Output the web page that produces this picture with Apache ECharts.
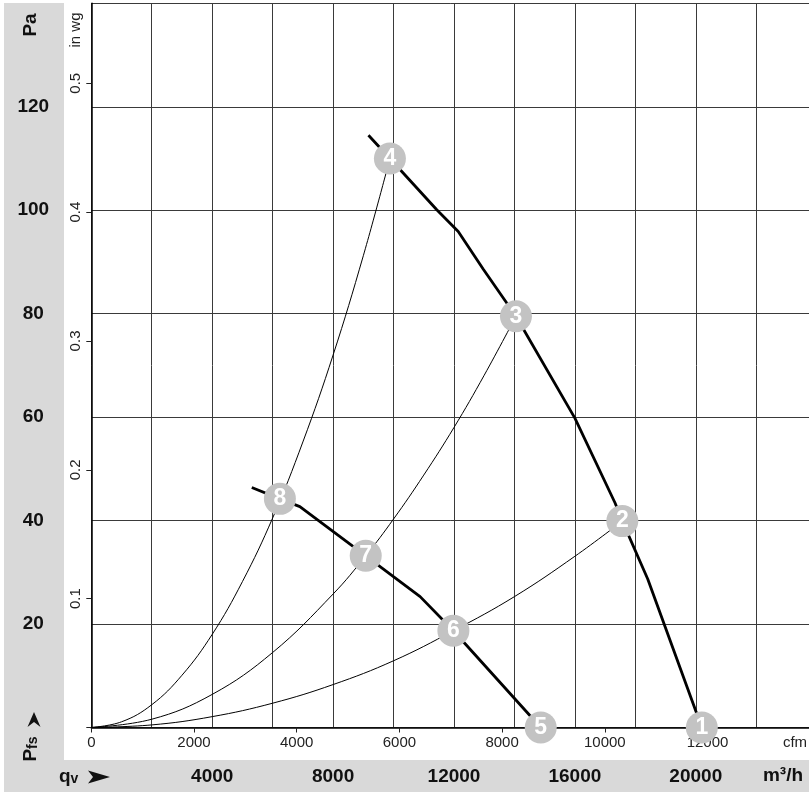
<!DOCTYPE html>
<html>
<head>
<meta charset="utf-8">
<script src="https://cdn.jsdelivr.net/npm/echarts@6/dist/echarts.min.js"></script>
<style>
html,body{margin:0;padding:0;background:#fff;}
#chart{width:809px;height:797px;}
</style>
</head>
<body>
<div id="chart"></div>
<script>
// ---- data (airflow qV in m3/h, static pressure pfs in Pa) ----
const fanHigh = [[9170,114.5],[9880,110.0],[11430,100.1],[12140,95.9],[12970,88.6],[14050,79.5],[16000,59.8],[17330,43.4],[17570,39.9],[18410,28.7],[20200,0]];
const fanLow = [[5310,46.4],[6240,44.2],[6900,42.7],[9080,33.2],[10880,25.3],[11980,18.7],[14870,0]];
const sysA = [[0,0],[1000,1.1],[2000,4.4],[3000,10.1],[4000,18.0],[5000,28.2],[6000,40.5],[7000,55.2],[8000,72.0],[9000,91.2],[9880,110.0]];
const sysB = [[0,0],[2000,1.6],[4000,6.4],[6000,14.5],[8000,25.8],[9080,33.2],[10000,40.3],[11000,48.8],[12000,58.0],[13000,68.1],[14050,79.5]];
const sysC = [[0,0],[2000,0.5],[4000,2.1],[6000,4.7],[8000,8.3],[10000,12.9],[11980,18.7],[14000,25.3],[16000,33.1],[17570,39.9]];
const opPoints = [[20200,0],[17570,39.9],[14050,79.5],[9880,110.0],[14870,0],[11980,18.7],[9080,33.2],[6240,44.2]];
const opLabels = ['1','2','3','4','5','6','7','8'];
const qMax = 23746, pMax = 140;
const CFM = 1.699011, INWG = 249.0889;

const FONT = '"Liberation Sans", Arial, sans-serif';
const chart = echarts.init(document.getElementById('chart'), null, {renderer:'canvas'});

function lineSeries(data, width, smooth){
  return {type:'line', data:data, xAxisIndex:0, yAxisIndex:0, showSymbol:false, symbol:'none',
    smooth:smooth, lineStyle:{color:'#000', width:width}, z:3, silent:true};
}

const option = {
  animation:false,
  textStyle:{fontFamily:FONT},
  grid:{left:91.3, top:3.3, right:0, height:724.2, containLabel:false},
  xAxis:[
    {type:'value', position:'bottom', min:0, max:qMax, interval:2000,
      axisLine:{show:true, onZero:false, lineStyle:{color:'#000', width:1.5}},
      axisTick:{show:false},
      splitLine:{show:true, showMaxLine:false, lineStyle:{color:'#3a3a3a', width:1}},
      axisLabel:{margin:40, fontSize:19, fontWeight:'bold', color:'#111', fontFamily:FONT, showMaxLabel:false,
        formatter:v => (v>0 && v<22000 && v%4000===0) ? String(v) : ''}},
    {type:'value', position:'bottom', min:0, max:qMax/CFM, interval:2000,
      axisLine:{show:false, onZero:false},
      axisTick:{show:true, inside:false, length:5, lineStyle:{color:'#222'}},
      splitLine:{show:false},
      axisLabel:{margin:8, fontSize:15, color:'#222', fontFamily:FONT, showMaxLabel:false,
        formatter:v => (v<=12000 && v%2000===0) ? String(v) : ''}}
  ],
  yAxis:[
    {type:'value', position:'left', min:0, max:pMax, interval:20,
      axisLine:{show:true, onZero:false, lineStyle:{color:'#000', width:1.5}},
      axisTick:{show:false},
      splitLine:{show:true, lineStyle:{color:'#3a3a3a', width:1}},
      axisLabel:{margin:58, align:'center', fontSize:19, fontWeight:'bold', color:'#111', fontFamily:FONT,
        formatter:v => (v>0 && v<pMax) ? String(v) : ''}},
    {type:'value', position:'left', offset:0, min:0, max:pMax/INWG, interval:0.1,
      axisLine:{show:false, onZero:false},
      axisTick:{show:true, inside:false, length:5, lineStyle:{color:'#222'}},
      splitLine:{show:false},
      axisLabel:{margin:8, rotate:90, fontSize:15, color:'#222', fontFamily:FONT, showMaxLabel:false,
        formatter:v => (v>0.05 && v<0.55) ? v.toFixed(1) : ''}}
  ],
  graphic:[
    {type:'rect', z:-10, shape:{x:4, y:3, width:60, height:757}, style:{fill:'#d9d9d9'}, silent:true},
    {type:'rect', z:-10, shape:{x:4, y:760, width:805, height:32}, style:{fill:'#d9d9d9'}, silent:true},
    {type:'text', x:31, y:25, rotation:Math.PI/2, style:{text:'Pa', font:'bold 19px '+FONT, fill:'#111', textAlign:'center', textVerticalAlign:'middle'}},
    {type:'text', x:76, y:30, rotation:Math.PI/2, style:{text:'in wg', font:'15px '+FONT, fill:'#222', textAlign:'center', textVerticalAlign:'middle'}},
    {type:'text', x:31, y:749, rotation:Math.PI/2, style:{text:'{a|P}{b|fs}', textAlign:'center', textVerticalAlign:'middle',
      rich:{a:{fontSize:19, fontWeight:'bold', fontFamily:FONT, fill:'#111', verticalAlign:'bottom'}, b:{fontSize:14, fontWeight:'bold', fontFamily:FONT, fill:'#111', verticalAlign:'bottom'}}}},
    {type:'polygon', shape:{points:[[34,712],[40.5,727],[34,722],[27.5,727]]}, style:{fill:'#111'}},
    {type:'text', x:59, y:777, style:{text:'{a|q}{b|v}', textAlign:'left', textVerticalAlign:'middle',
      rich:{a:{fontSize:19, fontWeight:'bold', fontFamily:FONT, fill:'#111', verticalAlign:'bottom'}, b:{fontSize:14, fontWeight:'bold', fontFamily:FONT, fill:'#111', verticalAlign:'bottom'}}}},
    {type:'polygon', shape:{points:[[110,777],[88,770.5],[93,777],[88,783.5]]}, style:{fill:'#111'}},
    {type:'text', x:795, y:743, style:{text:'cfm', font:'15px '+FONT, fill:'#222', textAlign:'center', textVerticalAlign:'middle'}},
    {type:'text', x:783, y:776, style:{text:'m³/h', font:'bold 19px '+FONT, fill:'#111', textAlign:'center', textVerticalAlign:'middle'}}
  ],
  series:[
    lineSeries(sysA, 1, 0.4),
    lineSeries(sysB, 1, 0.4),
    lineSeries(sysC, 1, 0.4),
    lineSeries(fanHigh, 2.8, false),
    lineSeries(fanLow, 2.8, false),
    {type:'scatter', xAxisIndex:0, yAxisIndex:0, z:5, silent:true,
      data:opPoints.map((p,i)=>({value:p, name:opLabels[i]})),
      symbol:'circle', symbolSize:32, itemStyle:{color:'#c3c3c3', opacity:1},
      label:{show:true, position:'inside', formatter:p=>p.name, color:'#fff', fontSize:23, fontWeight:'bold', fontFamily:FONT}}
  ]
};
chart.setOption(option);
</script>
</body>
</html>
